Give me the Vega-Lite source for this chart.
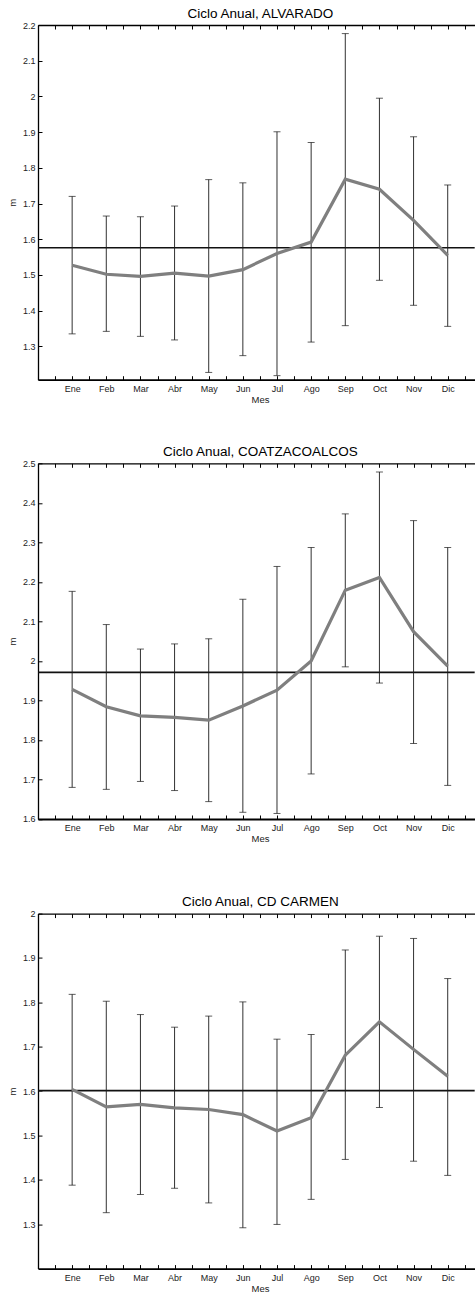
{
  "$schema": "https://vega.github.io/schema/vega-lite/v6.json",
  "padding": {"left": 8, "top": 6, "right": 0, "bottom": 0},
  "datasets": {
    "alv": [
      {"m": 1, "mean": 1.527, "lo": 1.335, "hi": 1.720},
      {"m": 2, "mean": 1.502, "lo": 1.342, "hi": 1.665},
      {"m": 3, "mean": 1.496, "lo": 1.328, "hi": 1.663},
      {"m": 4, "mean": 1.505, "lo": 1.318, "hi": 1.693},
      {"m": 5, "mean": 1.497, "lo": 1.227, "hi": 1.767},
      {"m": 6, "mean": 1.515, "lo": 1.274, "hi": 1.758},
      {"m": 7, "mean": 1.560, "lo": 1.218, "hi": 1.901},
      {"m": 8, "mean": 1.592, "lo": 1.312, "hi": 1.871},
      {"m": 9, "mean": 1.768, "lo": 1.358, "hi": 2.176},
      {"m": 10, "mean": 1.740, "lo": 1.485, "hi": 1.995},
      {"m": 11, "mean": 1.653, "lo": 1.415, "hi": 1.887},
      {"m": 12, "mean": 1.555, "lo": 1.356, "hi": 1.752}
    ],
    "coa": [
      {"m": 1, "mean": 1.928, "lo": 1.680, "hi": 2.176},
      {"m": 2, "mean": 1.884, "lo": 1.675, "hi": 2.092},
      {"m": 3, "mean": 1.861, "lo": 1.695, "hi": 2.030},
      {"m": 4, "mean": 1.857, "lo": 1.672, "hi": 2.043},
      {"m": 5, "mean": 1.850, "lo": 1.644, "hi": 2.056},
      {"m": 6, "mean": 1.886, "lo": 1.617, "hi": 2.156},
      {"m": 7, "mean": 1.926, "lo": 1.614, "hi": 2.239},
      {"m": 8, "mean": 2.000, "lo": 1.714, "hi": 2.287},
      {"m": 9, "mean": 2.179, "lo": 1.985, "hi": 2.372},
      {"m": 10, "mean": 2.211, "lo": 1.944, "hi": 2.478},
      {"m": 11, "mean": 2.074, "lo": 1.791, "hi": 2.355},
      {"m": 12, "mean": 1.987, "lo": 1.685, "hi": 2.287}
    ],
    "car": [
      {"m": 1, "mean": 1.604, "lo": 1.388, "hi": 1.818},
      {"m": 2, "mean": 1.5645, "lo": 1.326, "hi": 1.8025},
      {"m": 3, "mean": 1.570, "lo": 1.367, "hi": 1.7725},
      {"m": 4, "mean": 1.562, "lo": 1.381, "hi": 1.744},
      {"m": 5, "mean": 1.5585, "lo": 1.348, "hi": 1.769},
      {"m": 6, "mean": 1.547, "lo": 1.292, "hi": 1.801},
      {"m": 7, "mean": 1.510, "lo": 1.2995, "hi": 1.717},
      {"m": 8, "mean": 1.540, "lo": 1.356, "hi": 1.7275},
      {"m": 9, "mean": 1.681, "lo": 1.446, "hi": 1.918},
      {"m": 10, "mean": 1.756, "lo": 1.563, "hi": 1.949},
      {"m": 11, "mean": 1.694, "lo": 1.442, "hi": 1.944},
      {"m": 12, "mean": 1.6335, "lo": 1.410, "hi": 1.8536}
    ]
  },
  "bounds": "flush",
  "spacing": 83.3,
  "vconcat": [
    {
      "width": 436.7,
      "height": 354.7,
      "title": {"text": "Ciclo Anual, ALVARADO"},
      "data": {"name": "alv"},
      "layer": [
        {
          "data": {"values": [{"ref": 1.576}]},
          "mark": {"type": "rule", "color": "#111111", "strokeWidth": 1.6},
          "encoding": {
            "y": {"field": "ref", "type": "quantitative", "title": "m",
                  "scale": {"domain": [1.2066, 2.2], "nice": false, "zero": false},
                  "axis": {"values": [1.3, 1.4, 1.5, 1.6, 1.7, 1.8, 1.9, 2.0, 2.1, 2.2], "tickCount": 20, "labelOverlap": false, "titleY": 177.35}}
          }
        },
        {
          "mark": {"type": "rule", "color": "#1a1a1a", "strokeWidth": 0.9},
          "encoding": {
            "x": {"field": "m", "type": "quantitative", "title": "Mes",
                  "scale": {"domain": [0, 12.79], "nice": false, "zero": false},
                  "axis": {"orient": "bottom"}},
            "y": {"field": "lo", "type": "quantitative", "title": "m"},
            "y2": {"field": "hi"}
          }
        },
        {
          "mark": {"type": "tick", "orient": "horizontal", "size": 7, "thickness": 1, "color": "#1a1a1a"},
          "encoding": {
            "x": {"field": "m", "type": "quantitative", "axis": null},
            "y": {"field": "hi", "type": "quantitative", "title": "m"}
          }
        },
        {
          "mark": {"type": "tick", "orient": "horizontal", "size": 7, "thickness": 1, "color": "#1a1a1a"},
          "encoding": {
            "x": {"field": "m", "type": "quantitative", "axis": null},
            "y": {"field": "lo", "type": "quantitative", "title": "m"}
          }
        },
        {
          "mark": {"type": "line", "color": "#7f7f7f", "strokeWidth": 3.2},
          "encoding": {
            "x": {"field": "m", "type": "quantitative",
                  "axis": {"orient": "top", "labels": false, "title": null}},
            "y": {"field": "mean", "type": "quantitative", "title": "m"}
          }
        }
      ],
      "resolve": {"axis": {"x": "independent"}}
    },
    {
      "bounds": "flush",
      "spacing": 94.3,
      "vconcat": [
        {
          "width": 436.7,
          "height": 355.7,
          "title": {"text": "Ciclo Anual, COATZACOALCOS"},
          "data": {"name": "coa"},
          "layer": [
            {
              "data": {"values": [{"ref": 1.971}]},
              "mark": {"type": "rule", "color": "#111111", "strokeWidth": 1.6},
              "encoding": {
                "y": {"field": "ref", "type": "quantitative", "title": "m",
                      "scale": {"domain": [1.6, 2.5], "nice": false, "zero": false},
                      "axis": {"values": [1.6, 1.7, 1.8, 1.9, 2.0, 2.1, 2.2, 2.3, 2.4, 2.5], "tickCount": 20, "labelOverlap": false, "titleY": 177.85}}
              }
            },
            {
              "mark": {"type": "rule", "color": "#1a1a1a", "strokeWidth": 0.9},
              "encoding": {
                "x": {"field": "m", "type": "quantitative", "title": "Mes",
                      "scale": {"domain": [0, 12.79], "nice": false, "zero": false},
                      "axis": {"orient": "bottom"}},
                "y": {"field": "lo", "type": "quantitative", "title": "m"},
                "y2": {"field": "hi"}
              }
            },
            {
              "mark": {"type": "tick", "orient": "horizontal", "size": 7, "thickness": 1, "color": "#1a1a1a"},
              "encoding": {
                "x": {"field": "m", "type": "quantitative", "axis": null},
                "y": {"field": "hi", "type": "quantitative", "title": "m"}
              }
            },
            {
              "mark": {"type": "tick", "orient": "horizontal", "size": 7, "thickness": 1, "color": "#1a1a1a"},
              "encoding": {
                "x": {"field": "m", "type": "quantitative", "axis": null},
                "y": {"field": "lo", "type": "quantitative", "title": "m"}
              }
            },
            {
              "mark": {"type": "line", "color": "#7f7f7f", "strokeWidth": 3.2},
              "encoding": {
                "x": {"field": "m", "type": "quantitative",
                      "axis": {"orient": "top", "labels": false, "title": null}},
                "y": {"field": "mean", "type": "quantitative", "title": "m"}
              }
            }
          ],
          "resolve": {"axis": {"x": "independent"}}
        },
        {
          "width": 436.7,
          "height": 355,
          "title": {"text": "Ciclo Anual, CD CARMEN"},
          "data": {"name": "car"},
          "layer": [
            {
              "data": {"values": [{"ref": 1.601}]},
              "mark": {"type": "rule", "color": "#111111", "strokeWidth": 1.6},
              "encoding": {
                "y": {"field": "ref", "type": "quantitative", "title": "m",
                      "scale": {"domain": [1.2, 2.0], "nice": false, "zero": false},
                      "axis": {"values": [1.3, 1.4, 1.5, 1.6, 1.7, 1.8, 1.9, 2.0], "tickCount": 20, "labelOverlap": false, "titleY": 177.5}}
              }
            },
            {
              "mark": {"type": "rule", "color": "#1a1a1a", "strokeWidth": 0.9},
              "encoding": {
                "x": {"field": "m", "type": "quantitative", "title": "Mes",
                      "scale": {"domain": [0, 12.79], "nice": false, "zero": false},
                      "axis": {"orient": "bottom"}},
                "y": {"field": "lo", "type": "quantitative", "title": "m"},
                "y2": {"field": "hi"}
              }
            },
            {
              "mark": {"type": "tick", "orient": "horizontal", "size": 7, "thickness": 1, "color": "#1a1a1a"},
              "encoding": {
                "x": {"field": "m", "type": "quantitative", "axis": null},
                "y": {"field": "hi", "type": "quantitative", "title": "m"}
              }
            },
            {
              "mark": {"type": "tick", "orient": "horizontal", "size": 7, "thickness": 1, "color": "#1a1a1a"},
              "encoding": {
                "x": {"field": "m", "type": "quantitative", "axis": null},
                "y": {"field": "lo", "type": "quantitative", "title": "m"}
              }
            },
            {
              "mark": {"type": "line", "color": "#7f7f7f", "strokeWidth": 3.2},
              "encoding": {
                "x": {"field": "m", "type": "quantitative",
                      "axis": {"orient": "top", "labels": false, "title": null}},
                "y": {"field": "mean", "type": "quantitative", "title": "m"}
              }
            }
          ],
          "resolve": {"axis": {"x": "independent"}}
        }
      ]
    }
  ],
  "config": {
    "font": "Liberation Sans",
    "view": {"stroke": null},
    "title": {"fontSize": 13.5, "fontWeight": "normal", "color": "#000000", "frame": "group", "anchor": "middle", "dx": 4, "offset": 1, "font": "Liberation Sans"},
    "axis": {
      "grid": false,
      "domainColor": "#000000",
      "domainWidth": 1.3,
      "tickColor": "#000000",
      "tickWidth": 1,
      "tickSize": -4,
      "labelColor": "#222222",
      "labelFont": "Liberation Sans",
      "titleFont": "Liberation Sans",
      "titleFontWeight": "normal",
      "titleColor": "#222222"
    },
    "axisX": {
      "values": [1, 2, 3, 4, 5, 6, 7, 8, 9, 10, 11, 12],
      "tickCount": 20,
      "labelExpr": "['Ene','Feb','Mar','Abr','May','Jun','Jul','Ago','Sep','Oct','Nov','Dic'][datum.value - 1]",
      "labelFontSize": 9,
      "labelBaseline": "alphabetic",
      "labelPadding": 15.5,
      "labelFlush": false,
      "labelOverlap": false,
      "titleFontSize": 9.5,
      "titleX": 222,
      "titleY": 22.5,
      "titleAlign": "center",
      "titleBaseline": "alphabetic"
    },
    "axisBottom": {"domainWidth": 1.8},
    "axisY": {
      "labelFontSize": 9,
      "labelPadding": 7,
      "format": "~g",
      "labelFlush": false,
      "labelOverlap": false,
      "titleFontSize": 9.5,
      "titleAngle": 270,
      "titleX": -25,
      "titleAlign": "center",
      "titleBaseline": "middle"
    }
  }
}
